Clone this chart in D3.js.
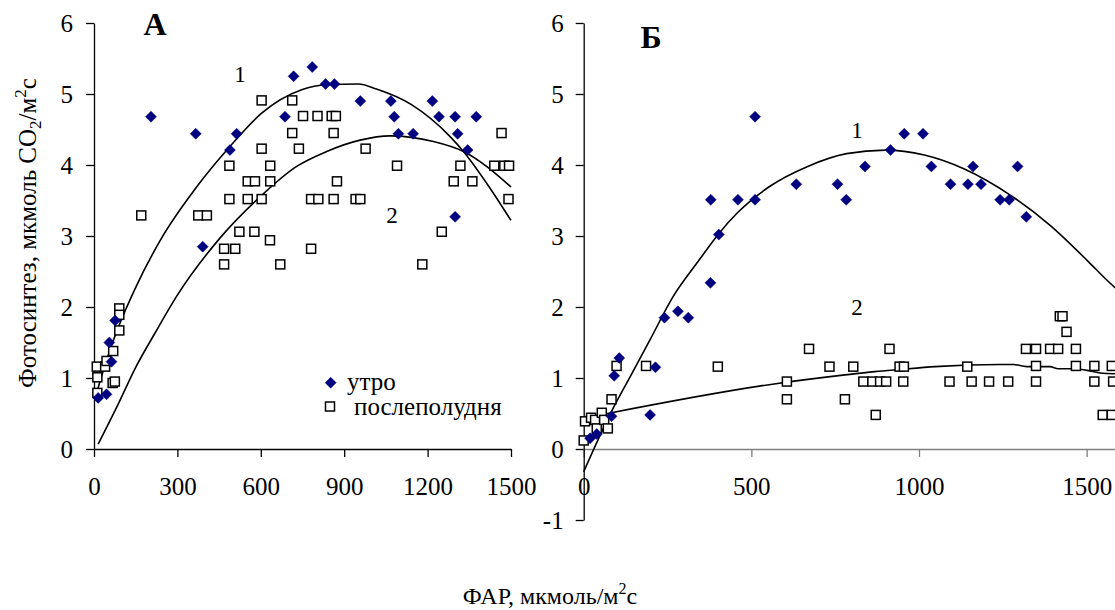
<!DOCTYPE html>
<html><head><meta charset="utf-8">
<script src="https://cdn.jsdelivr.net/npm/d3@7"></script>
<style>
html,body{margin:0;padding:0;background:#fff;overflow:hidden}
text{font-family:"Liberation Serif","Times New Roman",serif;fill:#000}
</style></head><body>
<svg id="chart" width="1115" height="610"></svg>
<script>
// ---------- DATA ----------
// Panel A (утро = morning, послеполудня = afternoon)
const aMorningX = [15,45,55,63,76,205,366,391,489,513,687,718,785,833,865,958,1068,1080,1095,1148,1217,1241,1299,1299,1308,1344,1375];
const aMorningY = [0.72,0.77,1.50,1.23,1.81,4.68,4.44,2.85,4.21,4.44,4.68,5.25,5.38,5.14,5.14,4.90,4.90,4.68,4.44,4.44,4.90,4.68,4.68,3.27,4.44,4.21,4.68];
const aAfterX = [10,12,12,40,45,67,75,69,91,91,91,170,375,406,468,508,468,487,487,523,553,579,553,577,603,603,603,634,634,633,670,713,713,737,752,781,781,804,807,855,870,862,862,874,941,958,977,1090,1181,1251,1294,1318,1361,1440,1466,1476,1493,1491];
const aAfterY = [1.16,1.01,0.79,1.16,1.24,0.93,0.95,1.38,1.98,1.89,1.67,3.29,3.29,3.29,2.82,2.82,2.60,3.99,3.52,3.06,3.77,3.77,3.52,3.06,4.91,4.23,3.52,3.99,3.77,2.94,2.60,4.91,4.45,4.23,4.69,2.82,3.52,4.69,3.52,4.69,4.69,4.45,3.52,3.77,3.52,3.52,4.23,3.99,2.60,3.06,3.77,3.99,3.77,3.99,4.45,3.99,3.99,3.52];
const aCurve1X = [10,33,58,88,148,243,369,489,603,747,837,951,1016,1142,1281,1329,1413,1500];
const aCurve1Y = [0.80,1.10,1.40,1.72,2.26,2.97,3.69,4.26,4.73,5.06,5.13,5.14,5.07,4.85,4.40,4.19,3.74,3.22];
const aCurve2X = [15,88,150,219,297,453,597,729,837,957,1065,1221,1329,1500];
const aCurve2Y = [0.07,0.64,1.15,1.63,2.15,2.97,3.55,3.98,4.19,4.35,4.41,4.33,4.19,3.69];

// Panel Б
const bMorningX = [19,39,83,91,106,198,214,241,281,312,378,379,403,460,511,511,634,757,783,839,915,956,1012,1037,1094,1146,1161,1185,1242,1269,1294,1320];
const bMorningY = [0.15,0.21,0.46,1.03,1.28,0.48,1.15,1.85,1.94,1.85,2.34,3.51,3.02,3.51,4.68,3.51,3.73,3.73,3.51,3.98,4.21,4.44,4.44,3.98,3.73,3.73,3.98,3.73,3.51,3.51,3.98,3.27];
const bAfterX = [0,4,22,34,39,54,61,72,83,98,186,400,606,606,672,733,804,779,834,861,884,902,871,912,942,955,953,1091,1144,1157,1209,1266,1319,1349,1349,1349,1391,1415,1420,1428,1440,1468,1468,1523,1523,1548,1575,1575,1579];
const bAfterY = [0.12,0.39,0.44,0.41,0.29,0.51,0.41,0.29,0.70,1.17,1.17,1.16,0.95,0.70,1.41,1.16,1.16,0.70,0.95,0.95,0.95,0.95,0.48,1.41,1.16,1.16,0.95,0.95,1.16,0.95,0.95,0.95,1.41,1.41,1.17,0.95,1.41,1.41,1.87,1.87,1.65,1.41,1.17,1.17,0.95,0.48,0.48,1.17,0.95];
const bCurve1X = [0,83,140,198,267,341,404,457,552,668,784,900,1016,1132,1280,1391,1505,1560,1590];
const bCurve1Y = [-0.32,0.53,1.03,1.54,2.15,2.64,3.04,3.32,3.69,3.98,4.16,4.21,4.14,3.95,3.55,3.15,2.64,2.38,2.25];
const bCurve2X = [60,573,773,868,942,1048,1242,1282,1321,1391,1415,1460,1510,1540,1590];
const bCurve2Y = [0.49,0.92,1.04,1.09,1.12,1.16,1.19,1.19,1.16,1.16,1.13,1.13,1.10,1.07,1.06];

const aXTicks = [0,300,600,900,1200,1500];
const aYTicks = [0,1,2,3,4,5,6];
const bXTicks = [0,500,1000,1500,2000];
const bYTicks = [-1,0,1,2,3,4,5,6];
const legendLabels = ["утро","послеполудня"];

// ---------- DRAW ----------
const svg = d3.select("#chart");
svg.append("rect").attr("width",1115).attr("height",610).attr("fill","#fff");

const NAVY = "#000080";
const TICKFONT = 25;

const xA = d3.scaleLinear().domain([0,1500]).range([94,511]);
const yA = d3.scaleLinear().domain([0,6]).range([449,23]);
const xB = d3.scaleLinear().domain([0,2000]).range([583.7,1254.3]);
const yB = d3.scaleLinear().domain([-1,6]).range([520,23]);

function styleAxis(g, color){
  g.attr("font-family",null).attr("font-size",null);
  g.selectAll("path").attr("stroke",color).attr("stroke-width",1.3);
  g.selectAll("line").attr("stroke",color).attr("stroke-width",1.3);
  g.selectAll("text").attr("font-size",TICKFONT).attr("fill","#000");
}

// Panel A axes
const gAy = svg.append("g").attr("transform",`translate(${xA(0)},0)`)
  .call(d3.axisLeft(yA).tickValues(aYTicks).tickSize(8).tickSizeOuter(0).tickPadding(13).tickFormat(d3.format("d")));
styleAxis(gAy,"#000");
const gAx = svg.append("g").attr("transform",`translate(0,${yA(0)})`)
  .call(d3.axisBottom(xA).tickValues(aXTicks).tickSize(8).tickSizeOuter(0).tickPadding(20).tickFormat(d3.format("d")));
styleAxis(gAx,"#000");

// Panel B axes
const gBx = svg.append("g").attr("transform",`translate(0,${yB(0)})`)
  .call(d3.axisBottom(xB).tickValues(bXTicks).tickSize(8).tickSizeOuter(0).tickPadding(20).tickFormat(d3.format("d")));
styleAxis(gBx,"#808080");
const gBy = svg.append("g").attr("transform",`translate(${xB(0)},0)`)
  .call(d3.axisLeft(yB).tickValues(bYTicks).tickSize(8).tickSizeOuter(0).tickPadding(12).tickFormat(d => d < 0 ? "-" + Math.abs(d) : d));
styleAxis(gBy,"#000");

// curves
function drawCurve(xs, ys, xS, yS){
  const pts = xs.map((x,i)=>[x, ys[i]]);
  svg.append("path").datum(pts)
    .attr("fill","none").attr("stroke","#000").attr("stroke-width",1.6)
    .attr("d", d3.line().x(d=>xS(d[0])).y(d=>yS(d[1])).curve(d3.curveMonotoneX));
}
drawCurve(aCurve1X,aCurve1Y,xA,yA);
drawCurve(aCurve2X,aCurve2Y,xA,yA);
drawCurve(bCurve1X,bCurve1Y,xB,yB);
drawCurve(bCurve2X,bCurve2Y,xB,yB);

// markers
const DIAMOND = "M0,-5.5L5.5,0L0,5.5L-5.5,0Z";
function drawSquares(xs, ys, xS, yS){
  svg.append("g").selectAll("rect").data(xs.map((x,i)=>[x,ys[i]])).join("rect")
    .attr("x",d=>xS(d[0])-4.5).attr("y",d=>yS(d[1])-4.5)
    .attr("width",9).attr("height",9)
    .attr("fill","#fff").attr("stroke","#000").attr("stroke-width",1.5);
}
function drawDiamonds(xs, ys, xS, yS){
  svg.append("g").selectAll("path").data(xs.map((x,i)=>[x,ys[i]])).join("path")
    .attr("transform",d=>`translate(${xS(d[0])},${yS(d[1])})`)
    .attr("d",DIAMOND)
    .attr("fill",NAVY).attr("stroke",NAVY).attr("stroke-width",0.5);
}
drawSquares(aAfterX,aAfterY,xA,yA);
drawDiamonds(aMorningX,aMorningY,xA,yA);
drawSquares(bAfterX,bAfterY,xB,yB);
drawDiamonds(bMorningX,bMorningY,xB,yB);

// panel letters
svg.append("text").attr("x",155).attr("y",35).attr("text-anchor","middle")
  .attr("font-size",32).attr("font-weight","bold").text("А");
svg.append("text").attr("x",651).attr("y",48).attr("text-anchor","middle")
  .attr("font-size",32).attr("font-weight","bold").text("Б");

// curve labels
function lbl(x,y,t){ svg.append("text").attr("x",x).attr("y",y).attr("text-anchor","middle").attr("font-size",23).text(t); }
lbl(240,82,"1"); lbl(392,223,"2"); lbl(857,138,"1"); lbl(857,315,"2");

// legend
svg.append("path").attr("transform","translate(330.7,382.7)").attr("d",DIAMOND)
  .attr("fill",NAVY).attr("stroke",NAVY).attr("stroke-width",0.5);
svg.append("rect").attr("x",325.5).attr("y",402).attr("width",9).attr("height",9)
  .attr("fill","#fff").attr("stroke","#000").attr("stroke-width",1.5);
svg.append("text").attr("x",347).attr("y",390).attr("font-size",25).text(legendLabels[0]);
svg.append("text").attr("x",354).attr("y",415).attr("font-size",25).text(legendLabels[1]);

// y title
const yt = svg.append("text").attr("transform","translate(36,233) rotate(-90)")
  .attr("text-anchor","middle").attr("font-size",25);
yt.append("tspan").text("Фотосинтез,  мкмоль CO");
yt.append("tspan").attr("font-size",17).attr("dy",5).text("2");
yt.append("tspan").attr("dy",-5).text("/м");
yt.append("tspan").attr("font-size",17).attr("dy",-10).text("2");
yt.append("tspan").attr("dy",10).text("с");

// x title
const xt = svg.append("text").attr("x",550).attr("y",604).attr("text-anchor","middle").attr("font-size",24);
xt.append("tspan").text("ФАР, мкмоль/м");
xt.append("tspan").attr("font-size",16).attr("dy",-10).text("2");
xt.append("tspan").attr("dy",10).text("с");
</script>
</body></html>
